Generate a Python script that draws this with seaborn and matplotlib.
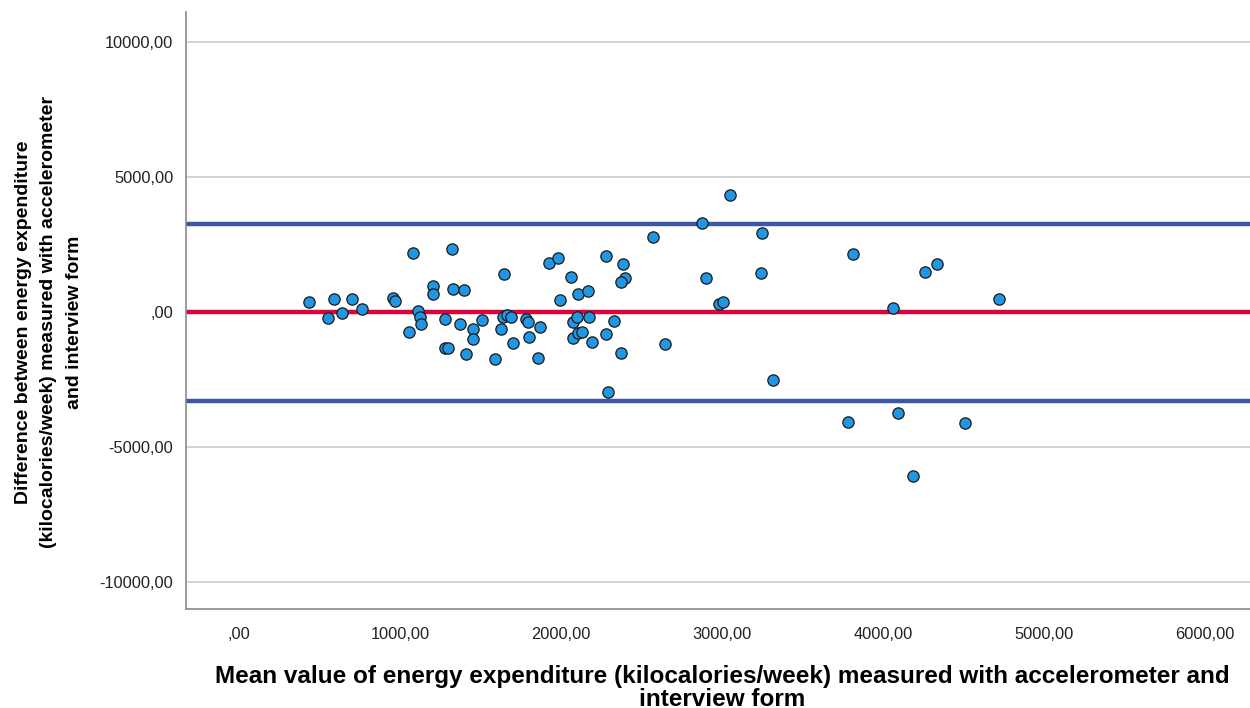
import numpy as np
import pandas as pd
import matplotlib
matplotlib.use("Agg")
import matplotlib.pyplot as plt
import seaborn as sns

# ---- data (mean value, difference) ----
mean_kcal = [
    437, 551, 592, 642, 704, 762, 958, 969, 1083, 1114, 1124, 1128, 1054,
    1207, 1207, 1320, 1326, 1396, 1279, 1374, 1279, 1300, 1407,
    1646, 1927, 1981, 2064, 1994, 2107, 2170, 2278, 2383, 2399, 2371, 2569,
    1455, 1455, 1511, 1590, 1627, 1642, 1663, 1689, 1704, 1781, 1793, 1799,
    1870, 1859, 2073, 2097, 2174, 2076, 2107, 2128, 2191, 2278, 2331, 2373,
    2294, 2646,
    3050, 2874, 3246, 2899, 3242, 2981, 3004, 3319,
    3815, 4261, 4337, 4064, 4722, 3781, 4095, 4509, 4188,
]
diff_kcal = [
    381, -233, 492, -48, 481, 122, 507, 407, 2194, 48, -174, -455, -729,
    962, 655, 2320, 844, 814, -270, -455, -1321, -1321, -1547,
    1406, 1802, 2009, 1284, 433, 655, 788, 2083, 1776, 1269, 1110, 2786,
    -640, -999, -296, -1739, -618, -196, -111, -196, -1158, -259, -381, -914,
    -544, -1691, -370, -174, -185, -951, -788, -740, -1099, -803, -333, -1528,
    -2949, -1203,
    4329, 3282, 2934, 1269, 1454, 285, 381, -2512,
    2146, 1469, 1765, 137, 481, -4081, -3748, -4118, -6094,
]

mean_diff = -15
upper_loa = 3265
lower_loa = -3295

x_ticks = [0, 1000, 2000, 3000, 4000, 5000, 6000]
x_tick_labels = [",00", "1000,00", "2000,00", "3000,00", "4000,00", "5000,00", "6000,00"]
y_ticks = [10000, 5000, 0, -5000, -10000]
y_tick_labels = ["10000,00", "5000,00", ",00", "-5000,00", "-10000,00"]

x_label = ("Mean value of energy expenditure (kilocalories/week) measured with accelerometer and\n"
           "interview form")
y_label = ("Difference between energy expenditure\n"
           "(kilocalories/week) measured with accelerometer\n"
           "and interview form")

df = pd.DataFrame({"mean": mean_kcal, "diff": diff_kcal})

sns.set_theme(style="white")
plt.rcParams["font.family"] = ["Liberation Sans", "DejaVu Sans"]

fig = plt.figure(figsize=(12.5, 7.08), dpi=100)
ax = fig.add_axes([186 / 1250, 99 / 708, 1 - 186 / 1250, 597 / 708])

ax.set_xlim(-330, 6280)
ax.set_ylim(-11000, 11100)

ax.set_yticks(y_ticks)
ax.set_yticklabels(y_tick_labels)
ax.set_xticks(x_ticks)
ax.set_xticklabels(x_tick_labels)
ax.grid(axis="y", color="#c9c9c9", linewidth=1.1)
ax.grid(axis="x", visible=False)
ax.set_axisbelow(True)

ax.axhline(upper_loa, color="#3e56a6", linewidth=3.2, zorder=2)
ax.axhline(lower_loa, color="#3e56a6", linewidth=3.2, zorder=2)
ax.axhline(mean_diff, color="#d6063f", linewidth=3.2, zorder=2)

sns.scatterplot(data=df, x="mean", y="diff", ax=ax, s=66, color="#2196e3",
                edgecolor="#1a1a1a", linewidth=0.9, zorder=3, legend=False)

for side in ["top", "right"]:
    ax.spines[side].set_visible(False)
for side in ["left", "bottom"]:
    ax.spines[side].set_color("#8a8a8a")
    ax.spines[side].set_linewidth(1.2)

ax.tick_params(axis="both", length=0, labelsize=11.8, labelcolor="#222222")
ax.tick_params(axis="x", pad=13)
ax.tick_params(axis="y", pad=9)

ax.set_xlabel(x_label, fontsize=17.5, fontweight="bold", color="black", linespacing=1.0)
ax.set_ylabel(y_label, fontsize=14, fontweight="bold", color="black", linespacing=1.65)
ax.xaxis.set_label_coords(0.504, -0.093)
ax.yaxis.set_label_coords(-0.097, 0.48)

fig.savefig("out.png", dpi=100)
